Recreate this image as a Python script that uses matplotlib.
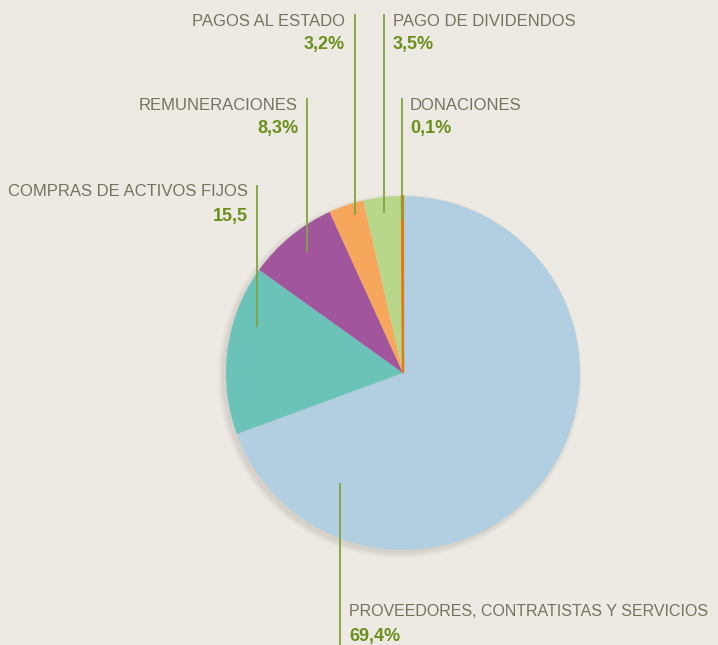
import matplotlib
matplotlib.use("Agg")
import matplotlib.pyplot as plt

# datos del gráfico
categorias = ["PROVEEDORES, CONTRATISTAS Y SERVICIOS", "COMPRAS DE ACTIVOS FIJOS",
              "REMUNERACIONES", "PAGOS AL ESTADO", "PAGO DE DIVIDENDOS", "DONACIONES"]
valores = [69.4, 15.5, 8.3, 3.2, 3.5, 0.1]
etiquetas_valor = ["69,4%", "15,5", "8,3%", "3,2%", "3,5%", "0,1%"]
colores = ["#B1CFE1", "#6BC2B8", "#A0559C", "#F6A75B", "#B9D78B", "#E07A12"]

fondo = "#EDEAE3"
gris = "#77715F"
verde = "#6A8F1C"
linea = "#7FA53A"

fig = plt.figure(figsize=(7.18, 6.45), dpi=100)
fig.patch.set_facecolor(fondo)
ax = fig.add_axes([0, 0, 1, 1])
ax.set_facecolor(fondo)

cx, cy, r = 403, 373, 177

# sombra suave abajo a la izquierda
for k in range(6):
    sombra = plt.Circle((cx - 3, cy + 3), r + 5 - k, color="#5a5040", alpha=0.025, lw=0)
    ax.add_patch(sombra)

cunas, _ = ax.pie(valores, colors=colores, startangle=-90, counterclock=True,
                  center=(cx, cy), radius=r, wedgeprops=dict(linewidth=0))
# la cuña de donaciones es muy fina, se marca con borde
cunas[-1].set_edgecolor(colores[-1])
cunas[-1].set_linewidth(1.6)

# etiquetas: (x texto, y etiqueta, alineación, x línea, y inicio, y fin, tamaño)
posiciones = [
    (349, 612, "left", 340, 483, 645, 11.5),
    (248, 192, "right", 257, 185, 327, 12),
    (298, 105, "right", 307, 98, 252, 12),
    (345, 21, "right", 355, 14, 215, 12),
    (393, 21, "left", 384, 14, 213, 12),
    (410, 105, "left", 402, 98, 220, 12),
]

for cat, val, (tx, ty, ha, lx, y0, y1, fs) in zip(categorias, etiquetas_valor, posiciones):
    ax.plot([lx, lx], [y0, y1], color=linea, lw=1.3, solid_capstyle="butt")
    ax.text(tx, ty, cat, ha=ha, va="center", fontsize=fs, color=gris,
            family="Liberation Sans")
    ax.text(tx, ty + 24, val, ha=ha, va="center", fontsize=13, color=verde,
            fontweight="bold", family="Liberation Sans")

ax.set_xlim(0, 718)
ax.set_ylim(645, 0)
ax.set_aspect("equal")
ax.axis("off")

fig.savefig("out.png", dpi=100, facecolor=fondo)
